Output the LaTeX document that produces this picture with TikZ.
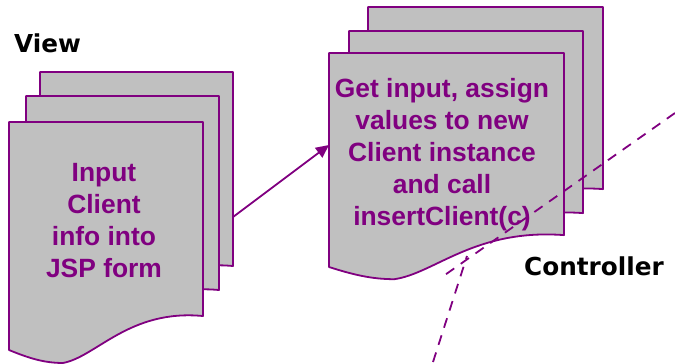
\documentclass[tikz,border=0pt]{standalone}
\usepackage{fontspec}
\setmainfont{Liberation Sans}
\newfontfamily\labelfont{DejaVu Sans}
\usetikzlibrary{arrows.meta}
\definecolor{docpurple}{HTML}{800080}
\definecolor{docgray}{HTML}{C0C0C0}
\newcommand\docsheet[4]{%
  \filldraw[sheet] (#1,#2) -- ({#1+#3},#2) -- ({#1+#3},{#2+0.851*#4})
    .. controls ({#1+0.62*#3},{#2+0.82*#4}) and ({#1+0.45*#3},{#2+1.03*#4}) .. ({#1+0.278*#3},{#2+1.057*#4})
    .. controls ({#1+0.18*#3},{#2+1.057*#4}) and ({#1+0.1*#3},{#2+1.035*#4}) .. (#1,{#2+#4}) -- cycle;}
\tikzset{
  sheet/.style={fill=docgray, draw=docpurple, line width=1.8pt, line join=round},
  doctext/.style={anchor=base, inner sep=0pt, text=docpurple, font=\fontsize{26.4}{32}\selectfont\bfseries},
  sidelabel/.style={anchor=base west, inner sep=0pt, text=black, font=\labelfont\fontsize{24.7}{28}\selectfont\bfseries},
  flow/.style={draw=docpurple, line width=1.8pt, -{Triangle[length=13pt,width=12pt]}},
  boundary/.style={draw=docpurple, line width=1.8pt, dash pattern=on 10pt off 8pt}
}
\begin{document}
\begin{tikzpicture}[x=1pt,y=-1pt]
\useasboundingbox (0,0) rectangle (675,364);
% left stack
\docsheet{40}{72}{193}{228}
\docsheet{26}{96}{193}{228}
\docsheet{9}{122}{194}{228}
% right stack
\docsheet{368}{7}{235}{214}
\docsheet{349}{31}{234}{214}
\docsheet{329}{53}{235}{214}
% texts
\node[doctext] (l1) at (104,181) {Input};
\node[doctext] (l2) at (104,213) {Client};
\node[doctext] (l3) at (104,245) {info into};
\node[doctext] (l4) at (104,277) {JSP form};
\node[doctext] (r1) at (442,97) {Get input, assign};
\node[doctext] (r2) at (442,129) {values to new};
\node[doctext] (r3) at (442,161) {Client instance};
\node[doctext] (r4) at (442,193) {and call};
\node[doctext] (r5) at (442,225) {insertClient(c)};
\node[sidelabel] (view) at (14,52) {View};
\node[sidelabel] (ctrl) at (524,275) {Controller};
% connector
\coordinate (viewedge) at (233,217);
\coordinate (ctrledge) at (329,145);
\draw[flow] (viewedge) -- (ctrledge);
% boundary lines
\coordinate (b1s) at (675,113);
\coordinate (b1e) at (442,277);
\coordinate (b2s) at (433,362);
\coordinate (b2e) at (467,256);
\draw[boundary] (b1s) -- (b1e);
\draw[boundary] (b2s) -- (b2e);
\end{tikzpicture}
\end{document}
